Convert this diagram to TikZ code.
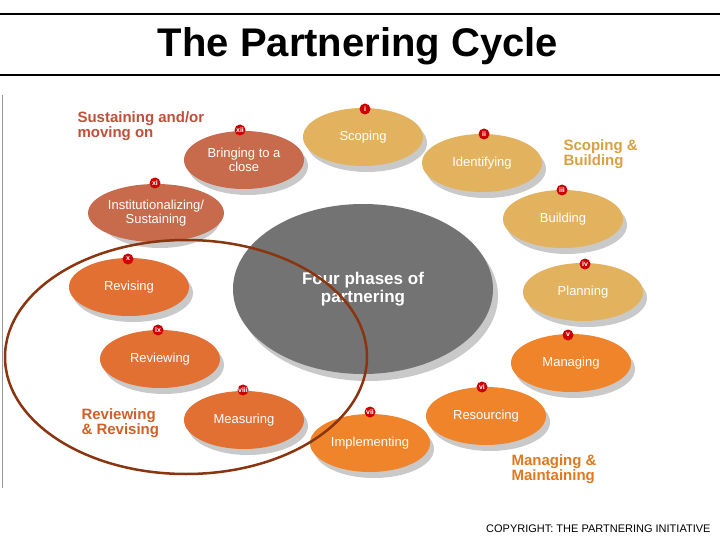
\documentclass[tikz,border=0pt]{standalone}
\usepackage{fontspec}
\setmainfont{Liberation Sans}
\usetikzlibrary{shapes.geometric}
\definecolor{tan1}{HTML}{E3B25E}
\definecolor{or1}{HTML}{F0842A}
\definecolor{or2}{HTML}{E27032}
\definecolor{br1}{HTML}{C86A4C}
\definecolor{br2}{HTML}{C0503A}
\definecolor{tan2}{HTML}{D9A040}
\definecolor{or3}{HTML}{E07820}
\definecolor{or4}{HTML}{D0602A}
\definecolor{brn}{HTML}{8B3410}
\begin{document}
\begin{tikzpicture}[x=1pt,y=-1pt,
  ph/.style={ellipse,minimum width=120pt,minimum height=58pt,inner sep=0pt,text=white,font=\fontsize{13}{14}\selectfont,align=center},
  num/.style={circle,fill=red!80!black,inner sep=0pt,minimum size=11pt,text=white,font=\fontsize{7}{7}\selectfont\bfseries},
  grp/.style={font=\fontsize{15}{15}\selectfont\bfseries,align=left,anchor=north west},
  sh/.style={fill=black!35,opacity=0.6}]
\useasboundingbox (0,0) rectangle (720,540);
\fill[white] (0,0) rectangle (720,540);
\draw[line width=2pt] (0,14) -- (720,14);
\draw[line width=2pt] (0,75) -- (720,75);
\node (title) at (358,46) {\fontsize{40}{40}\selectfont\bfseries The Partnering Cycle};
\draw[black!40] (2,95) -- (2,488);
\fill[sh] (368,296) ellipse (130 and 85);
\node[ellipse,fill=black!55,minimum width=260pt,minimum height=170pt,text=white,font=\fontsize{17}{18}\selectfont\bfseries,align=center] (c) at (363,289) {Four phases of\\partnering};
\foreach \x/\y/\c/\t/\n/\lx/\ly in {
 363/137/tan1/Scoping/i/365/109,
 482/163/tan1/Identifying/ii/484/134,
 563/219/tan1/Building/iii/562/190,
 583/292/tan1/Planning/iv/585/264,
 571/363/or1/Managing/v/568/335,
 486/416/or1/Resourcing/vi/482/387,
 370/443/or1/Implementing/vii/370/412,
 244/420/or2/Measuring/viii/243/390,
 160/359/or2/Reviewing/ix/158/330,
 129/287/or2/Revising/x/128/259,
 156/213/br1/{Institutionalizing/\\Sustaining}/xi/155/183,
 244/160/br1/{Bringing to a\\close}/xii/240/130}{
  \fill[sh] (\x+4,\y+6) ellipse (60 and 29);
  \node[ph,fill=\c] (p\n) at (\x,\y) {\t};
  \node[num] (n\n) at (\lx,\ly) {\n};
}
\node[grp,text=br2] (g1) at (74,108) {Sustaining and/or\\moving on};
\node[grp,text=tan2] (g2) at (560,136) {Scoping \&\\Building};
\node[grp,text=or3] (g3) at (508,451) {Managing \&\\Maintaining};
\node[grp,text=or4] (g4) at (78,405) {Reviewing\\\& Revising};
\draw[line width=2.5pt,draw=brn] (186,357) ellipse (181 and 117);
\node[anchor=east,font=\fontsize{11}{11}\selectfont] (cp) at (714,529) {COPYRIGHT: THE PARTNERING INITIATIVE};
\end{tikzpicture}
\end{document}
